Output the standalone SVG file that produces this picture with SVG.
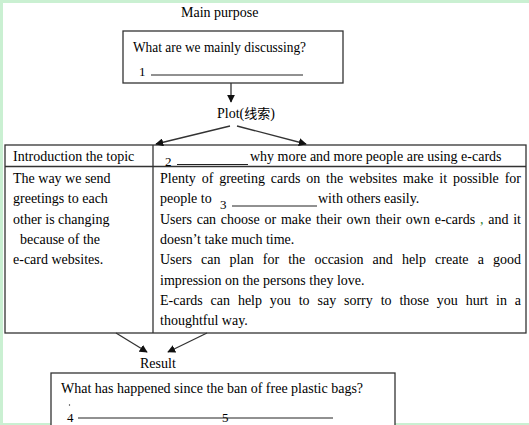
<svg xmlns="http://www.w3.org/2000/svg" width="529" height="425" viewBox="0 0 529 425">
<defs>
<style>
text{font-family:"Liberation Serif","Times New Roman",Times,serif;font-size:14px;fill:#000}
.cjk{font-family:"Noto Sans CJK SC",sans-serif;font-size:13px}
.box{fill:#fff;stroke:#333;stroke-width:1.3}
.ln{stroke:#333;stroke-width:1.3;fill:none}
.ul{stroke:#222;stroke-width:1;fill:none}
.arr{stroke:#333;stroke-width:1.3;fill:none;marker-end:url(#ah)}
.sm{font-size:13px}
</style>
<marker id="ah" viewBox="0 0 10 10" refX="9" refY="5" markerWidth="8" markerHeight="8" markerUnits="userSpaceOnUse" orient="auto">
<path d="M0,0 L10,5 L0,10 z" fill="#111"/>
</marker>
</defs>
<rect x="0" y="0" width="529" height="425" fill="#caf0d2"/>
<rect x="3" y="3" width="526" height="420" fill="#fff"/>

<g id="label-main-purpose"><text x="181" y="17">Main purpose</text></g>

<g id="node-main-purpose">
<rect class="box" x="123" y="31" width="220" height="52"/>
<text x="133" y="52" textLength="173" lengthAdjust="spacingAndGlyphs">What are we mainly discussing?</text>
<text x="139" y="76" class="sm">1</text>
<line class="ul" x1="151" y1="75" x2="303" y2="75"/>
</g>

<g id="label-plot"><text x="217" y="118">Plot(<tspan class="cjk">线索</tspan>)</text></g>

<g id="node-table">
<rect class="box" x="5" y="145" width="521" height="188"/>
<line class="ln" x1="5" y1="166.5" x2="526" y2="166.5"/>
<line class="ln" x1="153" y1="145" x2="153" y2="333"/>
<text x="13" y="161">Introduction the topic</text>
<text x="165" y="166" class="sm">2</text>
<line class="ul" x1="177" y1="164.5" x2="248" y2="164.5"/>
<text x="250" y="161">why more and more people are using e-cards</text>
<text x="13" y="183">The way we send</text>
<text x="13" y="203.3">greetings to each</text>
<text x="13" y="223.6">other is changing</text>
<text x="20" y="243.9">because of the</text>
<text x="13" y="264.2">e-card websites.</text>
<text x="160" y="183" word-spacing="2.35">Plenty of greeting cards on the websites make it possible for</text>
<text x="160" y="203.3">people to</text>
<text x="220" y="209" class="sm">3</text>
<line class="ul" x1="232" y1="206" x2="317" y2="206"/>
<text x="318" y="203.3">with others easily.</text>
<text x="160" y="223.6" word-spacing="1.28">Users can choose or make their own their own e-cards <tspan fill="#2e7d32">,</tspan> and it</text>
<text x="160" y="243.9">doesn’t take much time.</text>
<text x="160" y="264.2" word-spacing="5.62">Users can plan for the occasion and help create a good</text>
<text x="160" y="284.5">impression on the persons they love.</text>
<text x="160" y="304.8" word-spacing="4.36">E-cards can help you to say sorry to those you hurt in a</text>
<text x="160" y="325.1">thoughtful way.</text>
</g>

<g id="label-result"><text x="140" y="368">Result</text></g>

<g id="node-result">
<rect class="box" x="51" y="373" width="344" height="60"/>
<text x="61" y="393">What has happened since the ban of free plastic bags?</text>
<circle cx="69.5" cy="405" r="0.7" fill="#333"/>
<text x="67" y="422" class="sm">4</text>
<line class="ul" x1="78" y1="418" x2="333" y2="418"/>
<text x="222" y="422" class="sm">5</text>
</g>

<g id="connectors">
<line class="arr" x1="231" y1="83" x2="231" y2="102"/>
<line class="arr" x1="230" y1="126" x2="156" y2="144"/>
<line class="arr" x1="237" y1="126" x2="306" y2="144"/>
<line class="arr" x1="116" y1="333" x2="147" y2="352"/>
<line class="arr" x1="207" y1="333" x2="168" y2="352"/>
</g>
</svg>
